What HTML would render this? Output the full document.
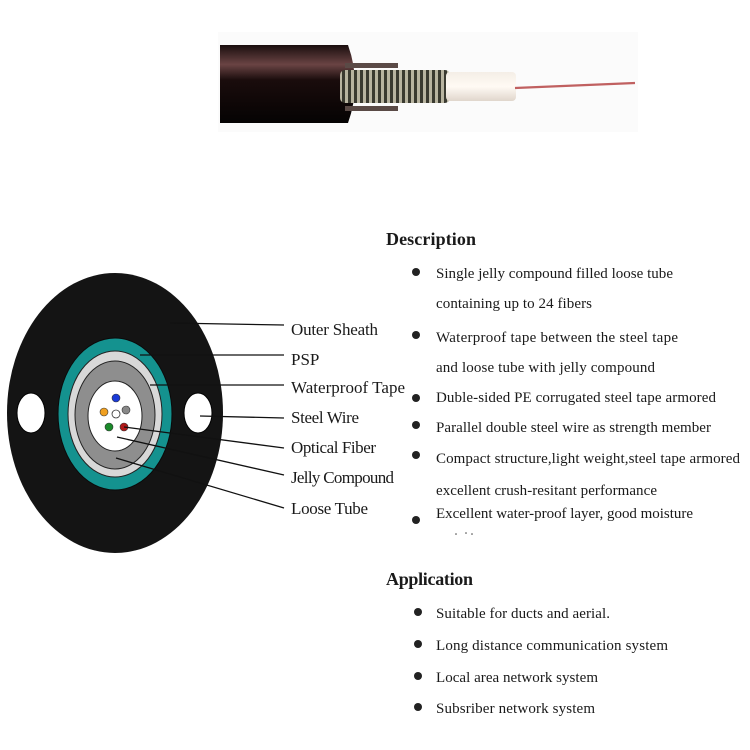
<!DOCTYPE html>
<html><head><meta charset="utf-8"><style>
html,body{margin:0;padding:0;background:#fff;}
svg{display:block;}
text{font-family:"Liberation Serif",serif;fill:#1a1a1a;}
</style></head><body>
<svg width="750" height="750" viewBox="0 0 750 750" xmlns="http://www.w3.org/2000/svg">
<defs>
<linearGradient id="body" x1="0" y1="0" x2="0" y2="1">
<stop offset="0" stop-color="#1a0e0e"/><stop offset="0.25" stop-color="#6a4444"/><stop offset="0.45" stop-color="#1a0c0c"/><stop offset="1" stop-color="#050303"/>
</linearGradient>
<pattern id="corr" width="6" height="40" patternUnits="userSpaceOnUse">
<rect width="6" height="40" fill="#b8b4a0"/><rect x="0" width="3" height="40" fill="#3a3a30"/>
</pattern>
<linearGradient id="tube" x1="0" y1="0" x2="0" y2="1">
<stop offset="0" stop-color="#f4eee6"/><stop offset="0.5" stop-color="#fffaf4"/><stop offset="1" stop-color="#e0d6cc"/>
</linearGradient>
</defs>
<rect width="750" height="750" fill="#fff"/>
<rect x="218" y="32" width="420" height="100" fill="#fbfbfb"/>
<!-- cable photo -->
<path d="M220 45 L348 45 Q362 84 348 123 L220 123 Z" fill="url(#body)"/>
<rect x="345" y="63" width="53" height="5" fill="#5a4a46"/>
<rect x="345" y="106" width="53" height="5" fill="#5a4a46"/>
<rect x="340" y="70" width="110" height="33" rx="5" fill="url(#corr)"/>
<rect x="446" y="72" width="70" height="29" rx="4" fill="url(#tube)"/>
<path d="M515 88 L635 83" stroke="#c06060" stroke-width="2.2"/>
<!-- cross section -->
<ellipse cx="115" cy="413" rx="108" ry="140" fill="#141414"/>
<ellipse cx="31" cy="413" rx="14" ry="20" fill="#fff" stroke="#000" stroke-width="1"/>
<ellipse cx="198" cy="413" rx="14" ry="20" fill="#fff" stroke="#000" stroke-width="1"/>
<ellipse cx="115" cy="414" rx="57" ry="76" fill="#14928f" stroke="#0a0a0a" stroke-width="1"/>
<ellipse cx="115" cy="414" rx="47" ry="63" fill="#d8d8d8" stroke="#222" stroke-width="1"/>
<ellipse cx="115" cy="415" rx="40" ry="54" fill="#8e8e8e" stroke="#222" stroke-width="1"/>
<ellipse cx="115" cy="416" rx="27" ry="35" fill="#fff" stroke="#222" stroke-width="1"/>
<circle cx="116" cy="398" r="4" fill="#1a3ad8" stroke="#333" stroke-width="0.6"/>
<circle cx="104" cy="412" r="4" fill="#f0a020" stroke="#333" stroke-width="0.6"/>
<circle cx="126" cy="410" r="4" fill="#888" stroke="#333" stroke-width="0.6"/>
<circle cx="116" cy="414" r="4" fill="#fff" stroke="#333" stroke-width="0.8"/>
<circle cx="109" cy="427" r="4" fill="#1a8a2a" stroke="#333" stroke-width="0.6"/>
<circle cx="124" cy="427" r="4" fill="#b01818" stroke="#333" stroke-width="0.6"/>
<g stroke="#111" stroke-width="1.3">
<line x1="170" y1="323" x2="284" y2="325"/>
<line x1="140" y1="355" x2="284" y2="355"/>
<line x1="150" y1="385" x2="284" y2="385"/>
<line x1="200" y1="416" x2="284" y2="418"/>
<line x1="124" y1="427" x2="284" y2="448"/>
<line x1="117" y1="437" x2="284" y2="475"/>
<line x1="116" y1="458" x2="284" y2="508"/>
</g>
<g font-size="17">
<text x="291" y="335" textLength="87">Outer Sheath</text>
<text x="291" y="365">PSP</text>
<text x="291" y="393" textLength="114">Waterproof Tape</text>
<text x="291" y="423" textLength="68">Steel Wire</text>
<text x="291" y="453" textLength="85">Optical Fiber</text>
<text x="291" y="483" textLength="103">Jelly Compound</text>
<text x="291" y="514" textLength="77">Loose Tube</text>
</g>
<text x="386" y="245" font-size="18" font-weight="bold" textLength="90">Description</text>
<text x="386" y="585" font-size="18" font-weight="bold" textLength="87">Application</text>
<g fill="#222">
<circle cx="416" cy="272" r="4"/><circle cx="416" cy="335" r="4"/><circle cx="416" cy="398" r="4"/>
<circle cx="416" cy="425" r="4"/><circle cx="416" cy="455" r="4"/><circle cx="416" cy="520" r="4"/>
<circle cx="418" cy="612" r="4"/><circle cx="418" cy="644" r="4"/><circle cx="418" cy="676" r="4"/><circle cx="418" cy="707" r="4"/>
</g>
<g font-size="15">
<text x="436" y="278" textLength="237">Single jelly compound filled loose tube</text>
<text x="436" y="308" textLength="156">containing up to 24 fibers</text>
<text x="436" y="342" textLength="242">Waterproof tape between the steel tape</text>
<text x="436" y="372" textLength="219">and loose tube with jelly compound</text>
<text x="436" y="402" textLength="280">Duble-sided PE corrugated steel tape armored</text>
<text x="436" y="432" textLength="275">Parallel double steel wire as strength member</text>
<text x="436" y="463" textLength="304">Compact structure,light weight,steel tape armored</text>
<text x="436" y="495" textLength="221">excellent crush-resitant performance</text>
<text x="436" y="518" textLength="257">Excellent water-proof layer, good moisture</text>
<text x="436" y="618" textLength="174">Suitable for ducts and aerial.</text>
<text x="436" y="650" textLength="232">Long distance communication system</text>
<text x="436" y="682" textLength="162">Local area network system</text>
<text x="436" y="713" textLength="159">Subsriber network system</text>
</g>
<rect x="430" y="526" width="300" height="12" fill="#fff"/>
<g fill="#444"><circle cx="456" cy="534" r="0.8"/><circle cx="466" cy="533" r="0.8"/><circle cx="472" cy="534" r="0.8"/></g>
</svg>
</body></html>
